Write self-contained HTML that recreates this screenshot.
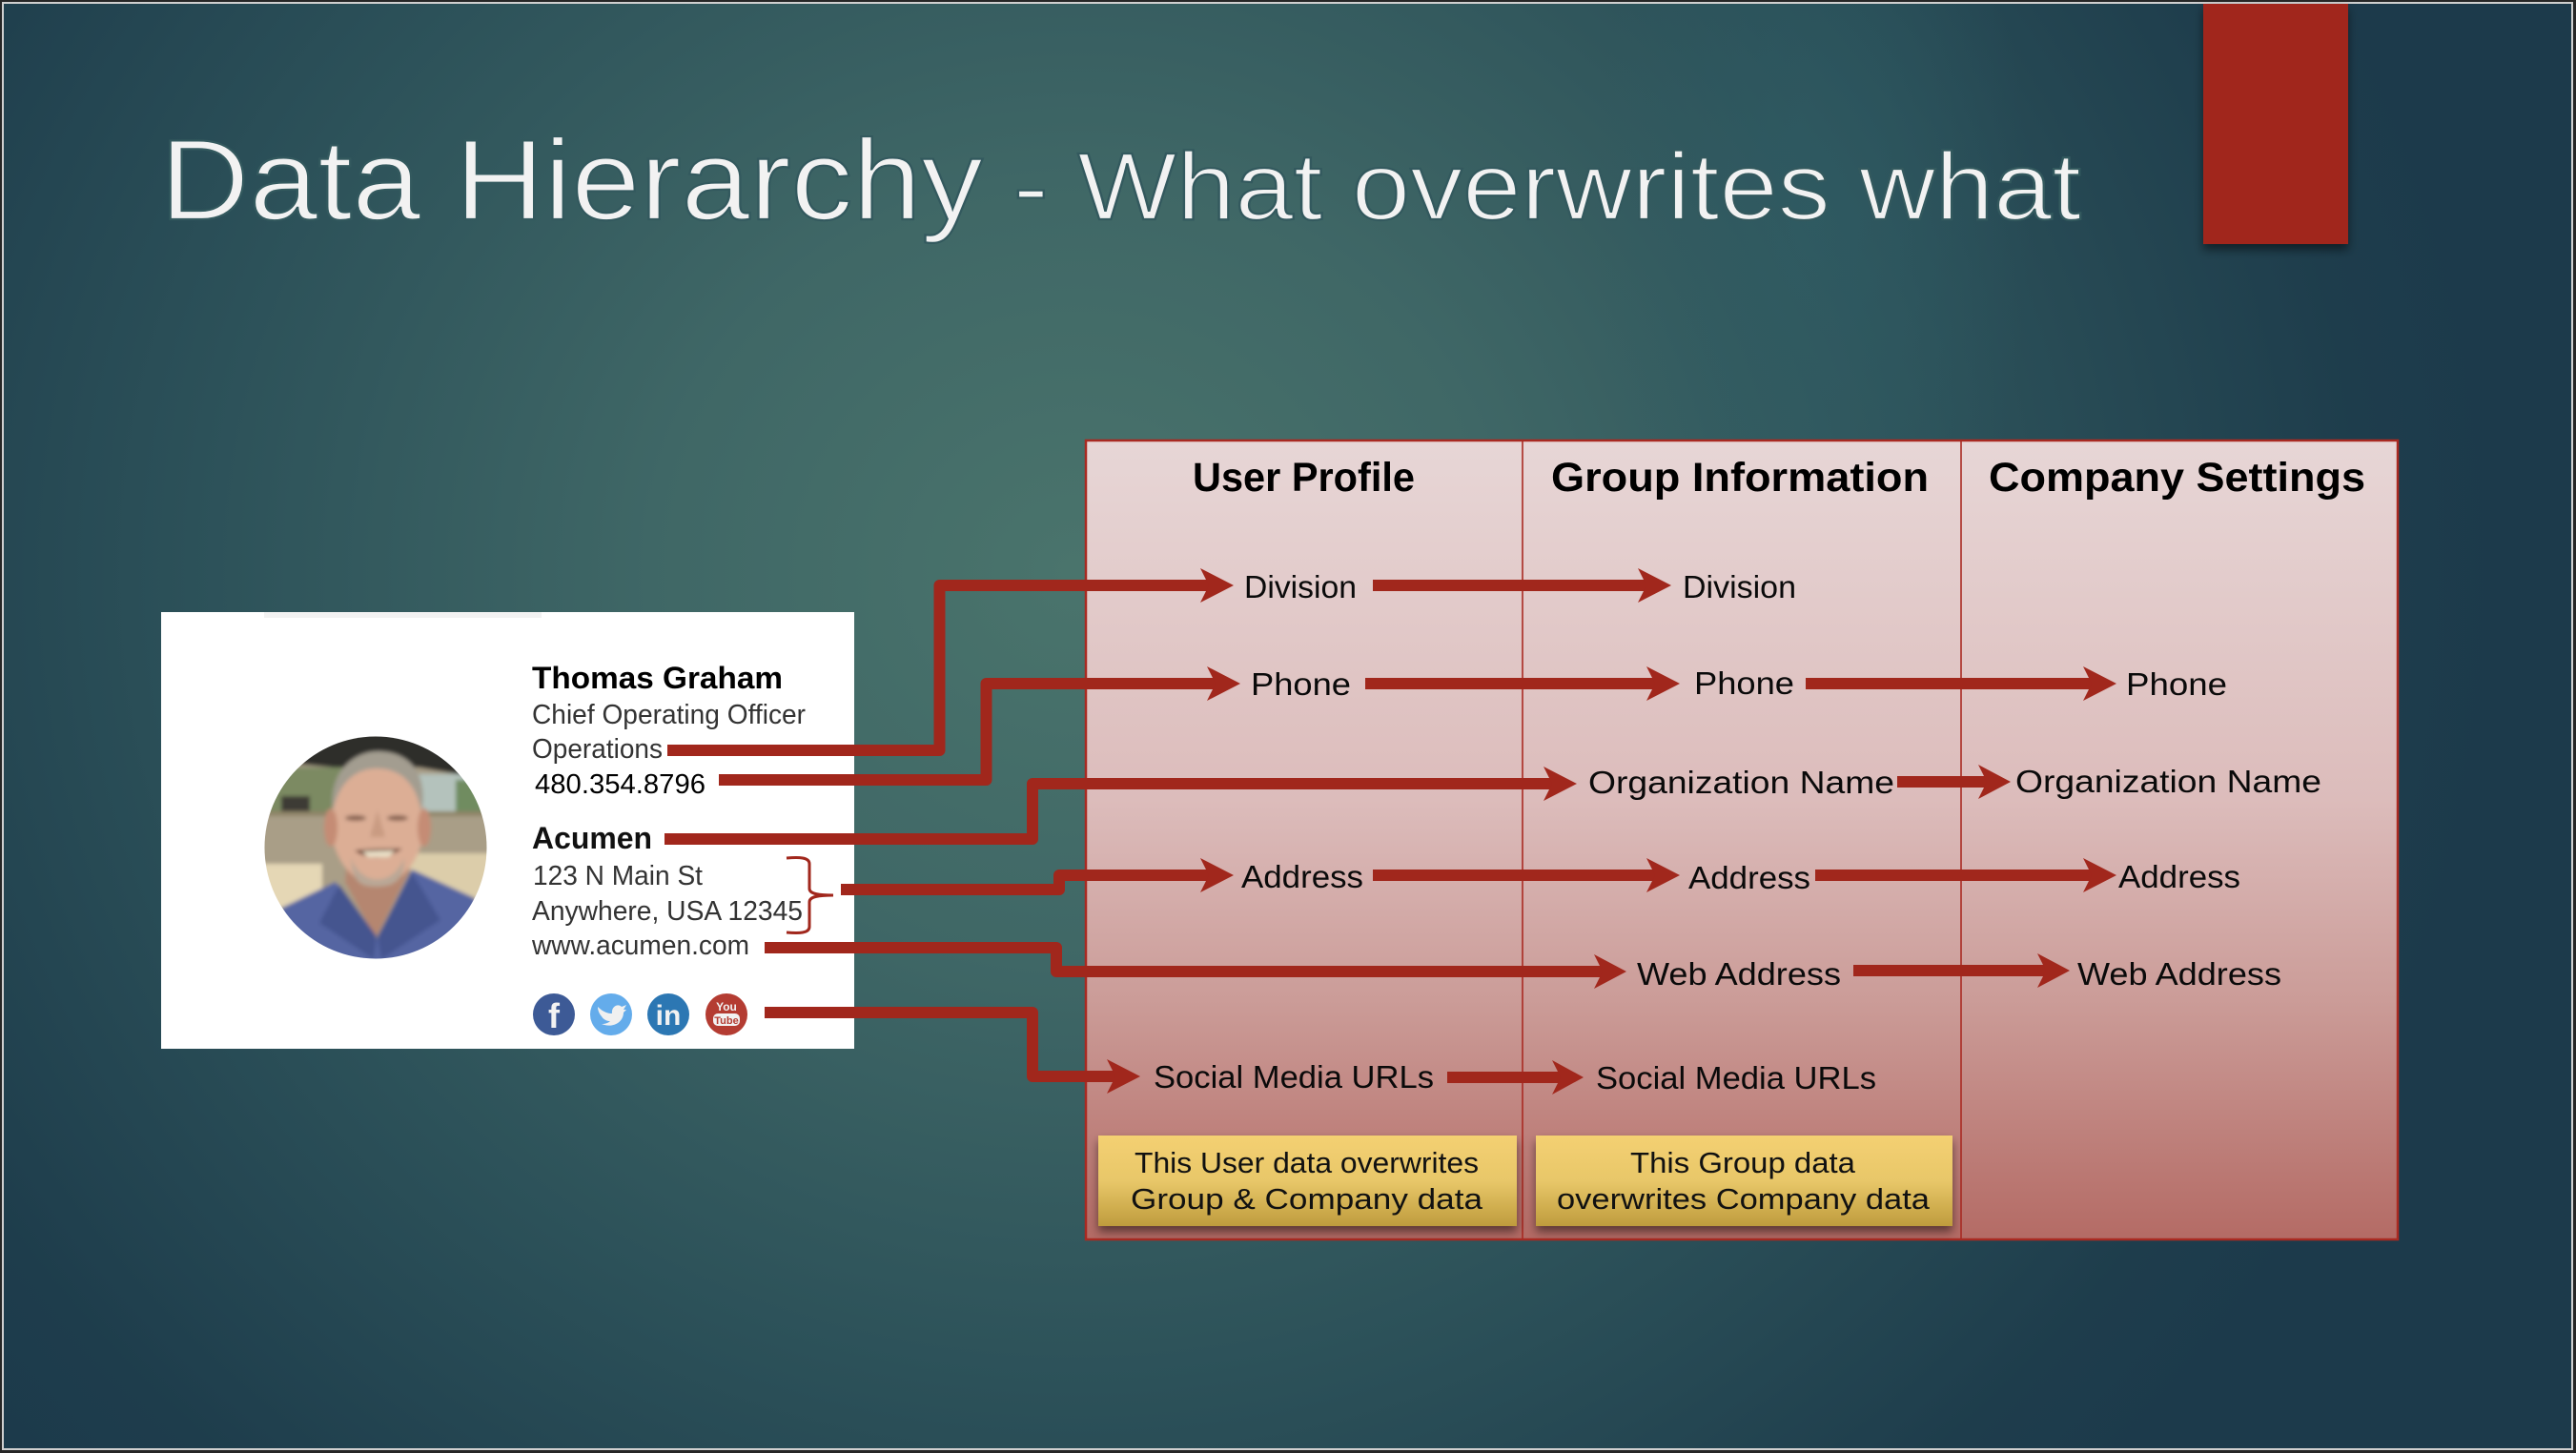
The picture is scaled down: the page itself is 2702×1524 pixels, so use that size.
<!DOCTYPE html>
<html><head><meta charset="utf-8"><style>
html,body{margin:0;padding:0;background:#262626}
svg{display:block}
text{font-family:"Liberation Sans",sans-serif}
.l{font-size:33px;fill:#0a0a0a}
.h{font-size:43px;font-weight:bold;fill:#000}
.y{font-size:31px;fill:#111}
.c{font-size:29px;fill:#333}
.t{fill:#f2f2f2;stroke:#33595e;stroke-width:2.2px;paint-order:normal}
</style></head><body>
<svg width="2702" height="1524" viewBox="0 0 2702 1524" xmlns="http://www.w3.org/2000/svg">
<defs>
<radialGradient id="bg" gradientUnits="userSpaceOnUse" cx="1130" cy="600" r="1500" gradientTransform="translate(1130 600) scale(1 .92) translate(-1130 -600)">
<stop offset="0" stop-color="#4a746c"/><stop offset=".3" stop-color="#3f6766"/><stop offset=".62" stop-color="#2c5159"/><stop offset=".9" stop-color="#1e3d4c"/><stop offset="1" stop-color="#1c3a4b"/>
</radialGradient>
<radialGradient id="band" gradientUnits="userSpaceOnUse" cx="0" cy="0" r="1" gradientTransform="translate(1900 230) scale(230 480)">
<stop offset="0" stop-color="#2f5c64" stop-opacity=".7"/><stop offset="1" stop-color="#2f5c64" stop-opacity="0"/>
</radialGradient>
<linearGradient id="tb" x1="0" y1="0" x2="0" y2="1">
<stop offset="0" stop-color="#e7d6d6"/><stop offset=".45" stop-color="#dcbcbb"/><stop offset=".7" stop-color="#cb9c98"/><stop offset="1" stop-color="#b46b65"/>
</linearGradient>
<linearGradient id="yl" x1="0" y1="0" x2="0" y2="1">
<stop offset="0" stop-color="#f4d072"/><stop offset=".5" stop-color="#e8c769"/><stop offset="1" stop-color="#bf9c3d"/>
</linearGradient>
<filter id="sh" x="-10%" y="-10%" width="120%" height="140%"><feDropShadow dx="0" dy="6" stdDeviation="5" flood-color="#000" flood-opacity=".5"/></filter>
<filter id="b3"><feGaussianBlur stdDeviation="2.2"/></filter>
<clipPath id="ph"><circle cx="394" cy="889" r="116.5"/></clipPath>
</defs>

<rect width="2702" height="1524" fill="#262626"/>
<rect x="3" y="3" width="2695" height="1517" fill="url(#bg)" stroke="#cfcfcf" stroke-width="2"/>
<rect x="1660" y="4" width="480" height="720" fill="url(#band)"/>

<!-- red tab -->
<rect x="2311" y="4" width="152" height="252" fill="#a1271c" filter="url(#sh)"/>

<!-- title -->
<text class="t" x="168" y="230" font-size="120" textLength="863" lengthAdjust="spacingAndGlyphs">Data Hierarchy</text>
<text class="t" x="1063" y="230" font-size="100" textLength="1120" lengthAdjust="spacingAndGlyphs">- What overwrites what</text>

<!-- card -->
<rect x="169" y="642" width="727" height="458" fill="#fff"/>
<rect x="277" y="642" width="291" height="6" fill="#f2f2f2"/>

<!-- photo -->
<g clip-path="url(#ph)">
<g filter="url(#b3)">
<rect x="270" y="765" width="250" height="250" fill="#a99e87"/>
<path d="M270 765H520V812H480L440 805H350L300 800L270 810Z" fill="#2f2e29"/>
<rect x="270" y="805" width="90" height="48" fill="#7c8a62"/>
<rect x="295" y="835" width="30" height="16" fill="#3c3a34"/>
<rect x="436" y="812" width="58" height="40" fill="#b4c2bc"/>
<rect x="478" y="818" width="34" height="34" fill="#708c60"/>
<rect x="270" y="851" width="250" height="5" fill="#8f8468"/>
<rect x="270" y="906" width="68" height="46" fill="#e5d7b5"/>
<rect x="430" y="895" width="90" height="50" fill="#dccdaa"/>
<path d="M296 952 L352 925 L395 985 L432 912 L498 942 L520 1020 L270 1020 Z" fill="#5565a2"/>
<path d="M362 925 L394 984 L430 912 L425 890 L365 890 Z" fill="#b58670"/>
<path d="M335 968 L356 928 L395 982 L392 1006 Z" fill="#45548f"/>
<path d="M462 965 L432 915 L396 982 L400 1006 Z" fill="#45548f"/>
<ellipse cx="396" cy="862" rx="49" ry="66" fill="#dcae95"/>
<ellipse cx="347" cy="868" rx="7" ry="20" fill="#c58c74"/>
<ellipse cx="445" cy="868" rx="7" ry="20" fill="#c58c74"/>
<path d="M349 852 C344 805 375 788 396 788 C430 788 450 812 442 852 C438 828 425 806 395 806 C368 806 353 828 349 852 Z" fill="#a39d90"/>
<path d="M368 900 C380 930 412 930 424 900 C424 925 412 930 394 930 C378 930 370 925 368 900 Z" fill="#b9a796"/>
<ellipse cx="373" cy="858" rx="11" ry="3" fill="#8a6553"/>
<ellipse cx="417" cy="858" rx="11" ry="3" fill="#8a6553"/>
<path d="M396 850 L388 878 L404 878 Z" fill="#c99b82"/>
<path d="M372 892 C385 902 405 902 422 890 C412 890 385 890 372 892 Z" fill="#6a3f33"/>
<path d="M380 893 L414 892 L408 899 L386 899 Z" fill="#e9dfc6"/>
</g>
</g>

<!-- card text -->
<text x="558" y="722" font-size="32" font-weight="bold" fill="#000" textLength="263" lengthAdjust="spacingAndGlyphs">Thomas Graham</text>
<text class="c" x="558" y="759" textLength="287" lengthAdjust="spacingAndGlyphs">Chief Operating Officer</text>
<text class="c" x="558" y="795" textLength="137" lengthAdjust="spacingAndGlyphs">Operations</text>
<text x="561" y="832" font-size="29" fill="#000" textLength="179" lengthAdjust="spacingAndGlyphs">480.354.8796</text>
<text x="558" y="890" font-size="32" font-weight="bold" fill="#111" textLength="126" lengthAdjust="spacingAndGlyphs">Acumen</text>
<text class="c" x="559" y="928" textLength="178" lengthAdjust="spacingAndGlyphs">123 N Main St</text>
<text class="c" x="558" y="965" textLength="284" lengthAdjust="spacingAndGlyphs">Anywhere, USA 12345</text>
<text class="c" x="558" y="1001" textLength="228" lengthAdjust="spacingAndGlyphs">www.acumen.com</text>

<!-- social icons -->
<circle cx="581" cy="1064" r="22" fill="#3d5a96"/>
<text x="581" y="1078" font-size="36" font-weight="bold" fill="#f2f2f2" text-anchor="middle">f</text>
<circle cx="641" cy="1064" r="22" fill="#64aceb"/>
<path d="M627 1056 C632 1061 637 1063 642 1063 C641 1056 648 1052 652 1056 L657 1054 L654 1059 L657 1059 L654 1062 C654 1072 643 1079 631 1074 C635 1074 638 1073 640 1071 C635 1071 632 1068 631 1066 C629 1064 627 1060 627 1056 Z" fill="#f0f0f0"/>
<circle cx="701" cy="1064" r="22" fill="#2c77b3"/>
<text x="701" y="1075" font-size="30" font-weight="bold" fill="#f2f2f2" text-anchor="middle">in</text>
<circle cx="762" cy="1064" r="22" fill="#b43c32"/>
<text x="762" y="1060" font-size="12" font-weight="bold" fill="#f2f2f2" text-anchor="middle">You</text>
<rect x="748" y="1063" width="28" height="13" rx="5" fill="#f2f2f2"/>
<text x="762" y="1074" font-size="11" font-weight="bold" fill="#b43c32" text-anchor="middle">Tube</text>

<!-- brace -->
<path d="M825 900 C838 899 849 899 849 906 L849 932 C849 938 860 939 874 939 C860 939 849 940 849 946 L849 972 C849 979 838 979 825 978" fill="none" stroke="#a1271c" stroke-width="3"/>

<!-- table -->
<rect x="1139" y="462" width="1376" height="838" fill="url(#tb)" stroke="#a92a22" stroke-width="2.5"/>
<path d="M1597 462V1300M2057 462V1300" stroke="#a92a22" stroke-width="1.6" fill="none"/>

<text class="h" x="1251" y="515" textLength="233" lengthAdjust="spacingAndGlyphs">User Profile</text>
<text class="h" x="1627" y="515" textLength="396" lengthAdjust="spacingAndGlyphs">Group Information</text>
<text class="h" x="2086" y="515" textLength="395" lengthAdjust="spacingAndGlyphs">Company Settings</text>

<!-- yellow boxes -->
<rect x="1152" y="1191" width="439" height="95" fill="url(#yl)" filter="url(#sh)"/>
<rect x="1611" y="1191" width="437" height="95" fill="url(#yl)" filter="url(#sh)"/>
<text class="y" x="1190" y="1230" textLength="361" lengthAdjust="spacingAndGlyphs">This User data overwrites</text>
<text class="y" x="1186" y="1268" textLength="369" lengthAdjust="spacingAndGlyphs">Group &amp; Company data</text>
<text class="y" x="1710" y="1230" textLength="236" lengthAdjust="spacingAndGlyphs">This Group data</text>
<text class="y" x="1633" y="1268" textLength="391" lengthAdjust="spacingAndGlyphs">overwrites Company data</text>

<!-- connectors -->
<g fill="none" stroke="#a1271c" stroke-width="12" stroke-linejoin="round">
<path d="M700 787H985.5V614H1270"/>
<path d="M754 818H1034.500V717H1278"/>
<path d="M697 880H1083V822H1630"/>
<path d="M882 933H1111V918H1270"/>
<path d="M802 994H1108V1019H1682"/>
<path d="M802 1062H1083V1129H1172"/>
<path d="M1440 614H1730"/>
<path d="M1432 717H1739"/>
<path d="M1894 717H2197"/>
<path d="M1990 820H2086"/>
<path d="M1440 918H1739"/>
<path d="M1904 918H2197"/>
<path d="M1944 1018H2148"/>
<path d="M1518 1130H1638"/>
</g>
<!-- arrowheads -->
<g fill="#a1271c">
<path d="M1294 614L1259 596L1268 614L1259 632Z"/>
<path d="M1753 614L1718 596L1727 614L1718 632Z"/>
<path d="M1301 717L1266 699L1275 717L1266 735Z"/>
<path d="M1762 717L1727 699L1736 717L1727 735Z"/>
<path d="M2220 717L2185 699L2194 717L2185 735Z"/>
<path d="M1654 822L1619 804L1628 822L1619 840Z"/>
<path d="M2109 820L2075 802L2084 820L2075 838Z"/>
<path d="M1294 918L1259 900L1268 918L1259 936Z"/>
<path d="M1762 918L1727 900L1736 918L1727 936Z"/>
<path d="M2220 918L2185 900L2194 918L2185 936Z"/>
<path d="M1706 1019L1672 1001L1681 1019L1672 1037Z"/>
<path d="M2171 1018L2137 1000L2146 1018L2137 1036Z"/>
<path d="M1196 1129L1161 1111L1170 1129L1161 1147Z"/>
<path d="M1661 1130L1628 1112L1637 1130L1628 1148Z"/>
</g>

<!-- labels -->
<text class="l" x="1305" y="627" textLength="118" lengthAdjust="spacingAndGlyphs">Division</text>
<text class="l" x="1765" y="627" textLength="119" lengthAdjust="spacingAndGlyphs">Division</text>
<text class="l" x="1312" y="729" textLength="105" lengthAdjust="spacingAndGlyphs">Phone</text>
<text class="l" x="1777" y="728" textLength="105" lengthAdjust="spacingAndGlyphs">Phone</text>
<text class="l" x="2230" y="729" textLength="106" lengthAdjust="spacingAndGlyphs">Phone</text>
<text class="l" x="1666" y="832" textLength="321" lengthAdjust="spacingAndGlyphs">Organization Name</text>
<text class="l" x="2114" y="831" textLength="321" lengthAdjust="spacingAndGlyphs">Organization Name</text>
<text class="l" x="1302" y="931" textLength="128" lengthAdjust="spacingAndGlyphs">Address</text>
<text class="l" x="1771" y="932" textLength="128" lengthAdjust="spacingAndGlyphs">Address</text>
<text class="l" x="2222" y="931" textLength="128" lengthAdjust="spacingAndGlyphs">Address</text>
<text class="l" x="1717" y="1033" textLength="214" lengthAdjust="spacingAndGlyphs">Web Address</text>
<text class="l" x="2179" y="1033" textLength="214" lengthAdjust="spacingAndGlyphs">Web Address</text>
<text class="l" x="1210" y="1141" textLength="294" lengthAdjust="spacingAndGlyphs">Social Media URLs</text>
<text class="l" x="1674" y="1142" textLength="294" lengthAdjust="spacingAndGlyphs">Social Media URLs</text>
</svg>
</body></html>
